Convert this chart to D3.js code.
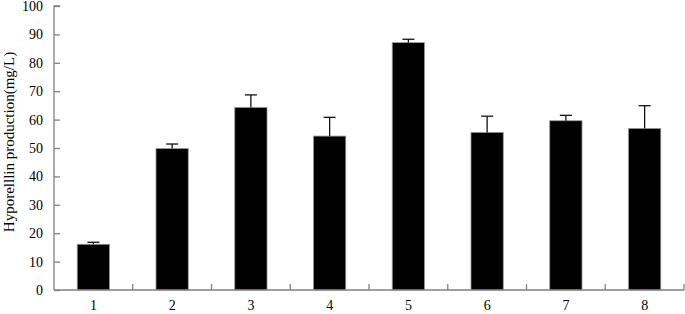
<!DOCTYPE html>
<html>
<head>
<meta charset="utf-8">
<script src="https://cdn.jsdelivr.net/npm/d3@7"></script>
<style>
  body { margin: 0; background: #fff; }
</style>
</head>
<body>
<div class="chart"></div>
<script>
const categories = ["1", "2", "3", "4", "5", "6", "7", "8"];
const means = [16.1, 49.8, 64.3, 54.2, 87.1, 55.5, 59.6, 56.9];
const errors = [0.7, 1.6, 4.4, 6.6, 1.2, 5.7, 1.9, 8.0];
const yTicks = [0, 10, 20, 30, 40, 50, 60, 70, 80, 90, 100];

function drawBarChart() {
    const width = 685, height = 314;
    const margin = { top: 6, right: 1, bottom: 24, left: 54 };
    const axisColor = "#808080";
    const serif = "'Liberation Serif', 'DejaVu Serif', 'Times New Roman', serif";

    const svg = d3.select(".chart").append("svg")
        .attr("width", width)
        .attr("height", height)
        .attr("font-family", serif);

    const x = d3.scaleBand()
        .domain(categories)
        .range([margin.left, width - margin.right])
        .paddingInner(0.59)
        .paddingOuter(0.295);

    // band boundaries for the between-category ticks
    const step = (width - margin.right - margin.left) / categories.length;

    const y = d3.scaleLinear()
        .domain([0, 100])
        .range([height - margin.bottom, margin.top]);

    // bars
    svg.selectAll(".bar")
        .data(means)
        .enter()
        .append("rect")
            .attr("class", "bar")
            .attr("x", (d, i) => x(categories[i]))
            .attr("y", d => y(d))
            .attr("width", x.bandwidth())
            .attr("height", d => y(0) - y(d))
            .attr("fill", "#000")
            .attr("stroke", "#9a9a9a")
            .attr("stroke-width", 0.8);

    // error bars (upper only)
    const err = svg.selectAll(".err")
        .data(means)
        .enter()
        .append("g")
            .attr("class", "err")
            .attr("stroke", "#111")
            .attr("stroke-width", 1.3);

    err.append("line")
        .attr("x1", (d, i) => x(categories[i]) + x.bandwidth() / 2)
        .attr("x2", (d, i) => x(categories[i]) + x.bandwidth() / 2)
        .attr("y1", d => y(d))
        .attr("y2", (d, i) => y(d + errors[i]));

    err.append("line")
        .attr("x1", (d, i) => x(categories[i]) + x.bandwidth() / 2 - 6)
        .attr("x2", (d, i) => x(categories[i]) + x.bandwidth() / 2 + 6)
        .attr("y1", (d, i) => y(d + errors[i]))
        .attr("y2", (d, i) => y(d + errors[i]));

    // y axis
    const yAxis = svg.append("g")
        .attr("transform", `translate(${margin.left},0)`)
        .call(d3.axisRight(y).tickValues(yTicks).tickSize(6).tickFormat(""));
    yAxis.select(".domain").attr("stroke", axisColor).attr("stroke-width", 1.3).attr("d", `M6,${y(100)}H0V${y(0)}`);
    yAxis.selectAll(".tick line").attr("stroke", axisColor).attr("stroke-width", 1.3);

    svg.selectAll(".ylab")
        .data(yTicks)
        .enter()
        .append("text")
            .attr("x", margin.left - 11)
            .attr("y", d => y(d))
            .attr("dy", "0.35em")
            .attr("text-anchor", "end")
            .attr("font-family", serif)
            .style("font-size", "14px")
            .text(d => d);

    // x axis
    svg.append("line")
        .attr("x1", margin.left)
        .attr("x2", width - margin.right)
        .attr("y1", y(0))
        .attr("y2", y(0))
        .attr("stroke", axisColor)
        .attr("stroke-width", 1.3);

    svg.selectAll(".xtick")
        .data(d3.range(1, categories.length + 1))
        .enter()
        .append("line")
            .attr("x1", i => margin.left + i * step)
            .attr("x2", i => margin.left + i * step)
            .attr("y1", y(0))
            .attr("y2", y(0) - 6)
            .attr("stroke", axisColor)
            .attr("stroke-width", 1.3);

    svg.selectAll(".xlab")
        .data(categories)
        .enter()
        .append("text")
            .attr("x", d => x(d) + x.bandwidth() / 2)
            .attr("y", height - 4)
            .attr("text-anchor", "middle")
            .attr("font-family", serif)
            .style("font-size", "14px")
            .text(d => d);

    // y label
    svg.append("text")
        .attr("transform", `translate(14,${(y(0) + y(100)) / 2 - 6}) rotate(-90)`)
        .attr("text-anchor", "middle")
        .attr("font-family", serif)
        .style("font-size", "15px")
        .text("Hyporelllin production(mg/L)");
}

drawBarChart();
</script>
</body>
</html>
